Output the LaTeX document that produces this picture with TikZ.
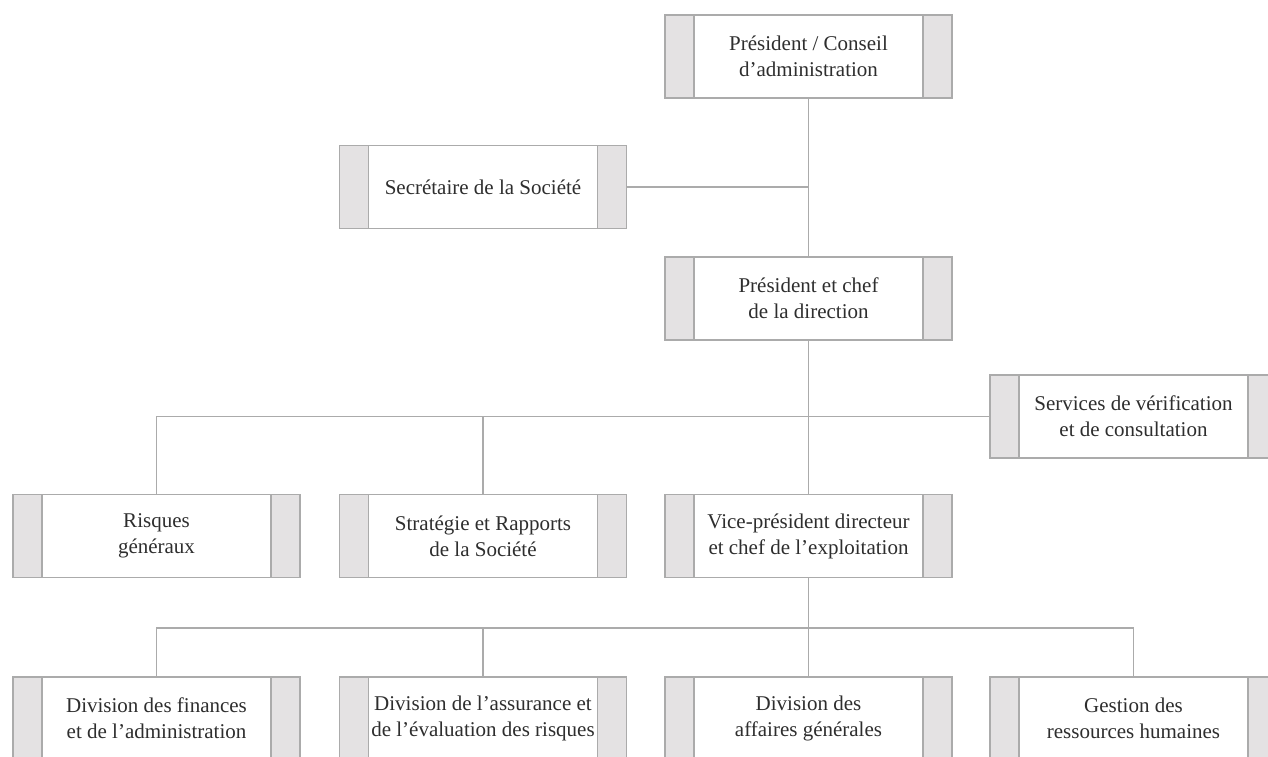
\documentclass[tikz,border=0pt]{standalone}
\usepackage{fontspec}
\setmainfont{Liberation Serif}
\definecolor{edgegray}{HTML}{ABABAB}
\definecolor{panelgray}{HTML}{E4E2E3}
\definecolor{txtgray}{HTML}{2E2E2E}
\tikzset{
  orgbox/.style={draw=edgegray, line width=1.2pt, fill=white,
    minimum width=287pt, minimum height=83pt, inner sep=0pt,
    align=center, text=txtgray, font=\fontsize{21}{26}\selectfont,
    path picture={
      \fill[panelgray] (path picture bounding box.north west) rectangle
        ([xshift=29pt]path picture bounding box.south west);
      \fill[panelgray] (path picture bounding box.north east) rectangle
        ([xshift=-29pt]path picture bounding box.south east);
      \draw[edgegray, line width=1.2pt]
        ([xshift=29pt]path picture bounding box.north west) --
        ([xshift=29pt]path picture bounding box.south west);
      \draw[edgegray, line width=1.2pt]
        ([xshift=-29pt]path picture bounding box.north east) --
        ([xshift=-29pt]path picture bounding box.south east);
    }},
  link/.style={draw=edgegray, line width=1.2pt}
}
\begin{document}
\begin{tikzpicture}[x=1pt, y=-1pt]
  \useasboundingbox (0,0) rectangle (1268,757);
  \path
    (808.5,56.5) node[orgbox] (board){Président / Conseil\\d’administration}
    (483,187) node[orgbox] (secr){Secrétaire de la Société}
    (808.5,298.5) node[orgbox] (ceo){Président et chef\\de la direction}
    (1133.5,416.5) node[orgbox] (audit){Services de vérification\\et de consultation}
    (156.5,536) node[orgbox] (risk){Risques\\généraux}
    (483,536) node[orgbox] (strat){Stratégie et Rapports\\de la Société}
    (808.5,536) node[orgbox] (coo){Vice-président directeur\\et chef de l’exploitation}
    (156.5,718.5) node[orgbox] (fin){Division des finances\\et de l’administration}
    (483,718.5) node[orgbox] (assur){Division de l’assurance et\\de l’évaluation des risques}
    (808.5,718.5) node[orgbox] (gen){Division des\\affaires générales}
    (1133.5,718.5) node[orgbox] (hr){Gestion des\\ressources humaines};
  \coordinate (jsecr) at (808.5,187);
  \coordinate (jceo) at (808.5,416.5);
  \coordinate (jcoo) at (808.5,628);
  \begin{scope}[link]
    \draw (board) to (ceo);
    \draw (secr) to (jsecr);
    \draw (ceo) to (coo);
    \draw (jceo) to (audit);
    \draw (risk.north) |- (jceo);
    \draw (strat.north) to (strat.north |- jceo);
    \draw (coo) to (gen);
    \draw (fin.north) |- (jcoo) -| (hr.north);
    \draw (assur.north) to (assur.north |- jcoo);
  \end{scope}
\end{tikzpicture}
\end{document}
